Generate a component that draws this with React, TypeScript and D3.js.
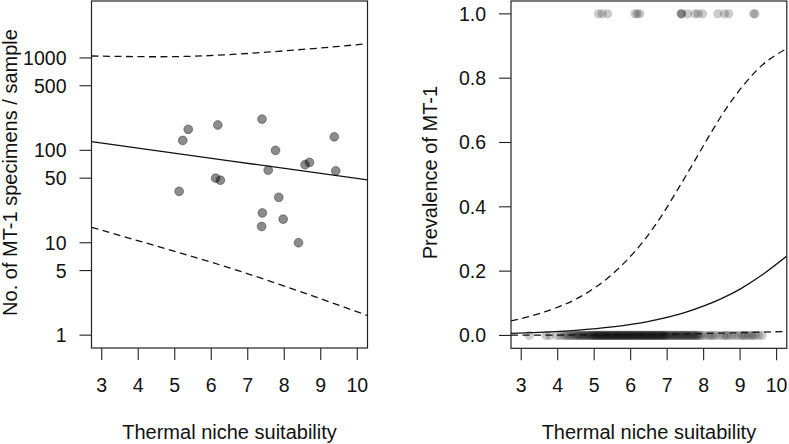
import React from "react";
import * as d3 from "d3";

const xTicks = [3, 4, 5, 6, 7, 8, 9, 10];
const countTicks = [1, 5, 10, 50, 100, 500, 1000];
const prevTicks = [0, 0.2, 0.4, 0.6, 0.8, 1.0];

// Left panel: sites with MT-1 (x = thermal niche suitability, y = specimens / sample)
const siteX = [5.37, 5.22, 6.18, 7.39, 9.37, 7.76, 8.57, 8.69, 7.56, 9.41, 6.12, 6.25, 5.12, 7.85, 7.4, 7.97, 7.38, 8.39];
const siteCount = [169, 128, 188, 218, 140, 100, 70, 74, 61, 60, 50, 47.5, 36, 31, 21, 18, 15, 10];

const countFitX = [2.72, 6.5, 10.28];
const countFit = [124, 77, 48];
const countUpperX = [2.72, 3.5, 4.5, 5.5, 6.5, 7.5, 8.5, 9.5, 10.28];
const countUpper = [1050, 1038, 1030, 1044, 1086, 1153, 1236, 1334, 1429];
const countLowerX = [2.72, 4.5, 6.5, 8.5, 10.28];
const countLower = [14.7, 9.2, 5.35, 2.9, 1.63];

// Right panel: presence (1) and absence (0) samples
const presentX = [5.37, 5.22, 6.18, 7.39, 9.37, 7.76, 8.57, 8.69, 7.56, 9.41, 6.12, 6.25, 5.12, 7.85, 7.4, 7.97, 7.38, 8.39];
const absentX = [
  3.22, 3.68, 3.78,
  3.98, 4.08, 4.17, 4.22, 4.28, 4.33, 4.38, 4.43, 4.47, 4.52, 4.55, 4.58, 4.62, 4.66, 4.69, 4.72, 4.76, 4.79, 4.83, 4.86, 4.89, 4.92, 4.95, 4.98,
  5.01, 5.03, 5.06, 5.08, 5.11, 5.13, 5.16, 5.18, 5.21, 5.23, 5.26, 5.28, 5.31, 5.33, 5.36, 5.38, 5.41, 5.43, 5.46, 5.48,
  5.51, 5.53, 5.56, 5.58, 5.61, 5.63, 5.66, 5.68, 5.71, 5.73, 5.76, 5.78, 5.81, 5.83, 5.86, 5.88, 5.91, 5.93, 5.96, 5.98,
  6.01, 6.03, 6.06, 6.08, 6.11, 6.13, 6.16, 6.18, 6.21, 6.23, 6.26, 6.28, 6.31, 6.33, 6.36, 6.38, 6.41, 6.43, 6.46, 6.48,
  6.51, 6.53, 6.56, 6.58, 6.61, 6.63, 6.66, 6.68, 6.71, 6.73, 6.76, 6.78, 6.81, 6.83, 6.86, 6.88, 6.91, 6.93, 6.96, 6.98,
  7.02, 7.05, 7.09, 7.12, 7.15, 7.19, 7.22, 7.25, 7.29, 7.32, 7.35, 7.39, 7.42, 7.45, 7.49, 7.52, 7.55, 7.59, 7.62, 7.65,
  7.69, 7.72, 7.75, 7.79, 7.82, 7.85,
  7.9, 7.95, 8.04, 8.13, 8.2, 8.26, 8.34, 8.45, 8.55, 8.61, 8.67, 8.76, 8.85, 8.94, 9.03, 9.09, 9.14, 9.22, 9.29, 9.34, 9.41, 9.5, 9.6,
];

const prevFitX = [2.72, 3.5, 4.5, 5.5, 6.5, 7.5, 8.5, 9.0, 9.5, 10.28];
const prevFit = [0.0064, 0.0096, 0.016, 0.0266, 0.0439, 0.0717, 0.115, 0.144, 0.18, 0.247];
const prevUpperX = [2.72, 3.64, 4.55, 5.46, 6.37, 6.83, 7.28, 7.74, 8.19, 8.65, 9.1, 9.56, 10.28];
const prevUpper = [0.045, 0.073, 0.116, 0.187, 0.296, 0.369, 0.452, 0.54, 0.628, 0.711, 0.779, 0.836, 0.892];
const prevLowerX = [2.72, 4, 5, 6, 7, 8, 9, 10.28];
const prevLower = [0.0008, 0.0012, 0.0018, 0.0027, 0.004, 0.006, 0.0085, 0.0125];

const W = 789;
const H = 444;
const FONT = "'Liberation Sans', Arial, Helvetica, sans-serif";
const FS = 19.5;
const FT = 20;
const DASH = "7,4.5";

type Scale = (v: number) => number;

function Panel(props: {
  left: number;
  right: number;
  top: number;
  bottom: number;
  x: Scale;
  y: Scale;
  yTicks: number[];
  yFmt: (v: number) => string;
  yTitle: string;
  children: React.ReactNode;
}) {
  const { left, right, top, bottom, x, y, yTicks, yFmt, yTitle } = props;
  const cx = (left + right) / 2;
  const cy = (top + bottom) / 2 - 2;
  return (
    <g>
      <defs>
        <clipPath id={`clip${Math.round(left)}`}>
          <rect x={left} y={top} width={right - left} height={bottom - top} />
        </clipPath>
      </defs>
      <g clipPath={`url(#clip${Math.round(left)})`}>{props.children}</g>
      <rect x={left} y={top} width={right - left} height={bottom - top} fill="none" stroke="#222" strokeWidth={1.2} />
      {xTicks.map((t) => (
        <g key={"x" + t}>
          <line x1={x(t)} x2={x(t)} y1={bottom} y2={bottom + 12} stroke="#222" strokeWidth={1.1} />
          <text x={x(t)} y={392} textAnchor="middle" fontSize={FS} fontFamily={FONT} fill="#111">
            {t}
          </text>
        </g>
      ))}
      {yTicks.map((t) => (
        <g key={"y" + t}>
          <line x1={left - 12} x2={left} y1={y(t)} y2={y(t)} stroke="#222" strokeWidth={1.1} />
          <text x={left - 25} y={y(t) + 7} textAnchor="end" fontSize={FS} fontFamily={FONT} fill="#111">
            {yFmt(t)}
          </text>
        </g>
      ))}
      <text x={cx} y={439} textAnchor="middle" fontSize={FT} fontFamily={FONT} fill="#111">
        Thermal niche suitability
      </text>
      <text
        transform={`translate(${left - 74.5},${cy}) rotate(-90)`}
        textAnchor="middle"
        fontSize={FT}
        fontFamily={FONT}
        fill="#111"
      >
        {yTitle}
      </text>
    </g>
  );
}

export default function App() {
  // Left panel scales
  const L = { left: 91.5, right: 367.5, top: 1, bottom: 348 };
  const xL = d3.scaleLinear().domain([2.72, 10.28]).range([L.left, L.right]);
  const lo = Math.pow(10, -0.139);
  const hi = Math.pow(10, Math.log10(3000) + 0.139);
  const yL = d3.scaleLog().domain([lo, hi]).range([L.bottom, L.top]);

  // Right panel scales
  const R = { left: 511, right: 786.8, top: 1, bottom: 348.3 };
  const xR = d3.scaleLinear().domain([2.72, 10.28]).range([R.left, R.right]);
  const yR = d3.scaleLinear().domain([-0.04, 1.04]).range([R.bottom, R.top]);

  const lineL = (xs: number[], ys: number[]) =>
    d3
      .line<number>()
      .x((_, i) => xL(xs[i]))
      .y((d) => yL(d))
      .curve(d3.curveMonotoneX)(ys) || "";
  const lineR = (xs: number[], ys: number[]) =>
    d3
      .line<number>()
      .x((_, i) => xR(xs[i]))
      .y((d) => yR(d))
      .curve(d3.curveMonotoneX)(ys) || "";

  return (
    <svg
      width={W}
      height={H}
      viewBox={`0 0 ${W} ${H}`}
      style={{ position: "absolute", left: 0, top: 0, background: "#fff" }}
    >
      <rect x={0} y={0} width={W} height={H} fill="#fff" />
      <Panel
        {...L}
        x={xL}
        y={yL}
        yTicks={countTicks}
        yFmt={(v) => String(v)}
        yTitle="No. of MT-1 specimens / sample"
      >
        {siteX.map((sx, i) => (
          <circle
            key={i}
            cx={xL(sx)}
            cy={yL(siteCount[i])}
            r={4.4}
            fill="rgba(0,0,0,0.45)"
            stroke="rgba(0,0,0,0.35)"
            strokeWidth={1}
          />
        ))}
        <path d={lineL(countFitX, countFit)} fill="none" stroke="#111" strokeWidth={1.3} />
        <path d={lineL(countUpperX, countUpper)} fill="none" stroke="#111" strokeWidth={1.3} strokeDasharray={DASH} />
        <path d={lineL(countLowerX, countLower)} fill="none" stroke="#111" strokeWidth={1.3} strokeDasharray={DASH} />
      </Panel>
      <Panel
        {...R}
        x={xR}
        y={yR}
        yTicks={prevTicks}
        yFmt={(v) => v.toFixed(1)}
        yTitle="Prevalence of MT-1"
      >
        {absentX.map((ax, i) => (
          <circle key={"a" + i} cx={xR(ax)} cy={yR(0)} r={4.6} fill="rgba(0,0,0,0.2)" />
        ))}
        {presentX.map((px, i) => (
          <circle key={"p" + i} cx={xR(px)} cy={yR(1)} r={4.6} fill="rgba(0,0,0,0.2)" />
        ))}
        <path d={lineR(prevFitX, prevFit)} fill="none" stroke="#111" strokeWidth={1.3} />
        <path d={lineR(prevUpperX, prevUpper)} fill="none" stroke="#111" strokeWidth={1.3} strokeDasharray={DASH} />
        <path d={lineR(prevLowerX, prevLower)} fill="none" stroke="#111" strokeWidth={1.3} strokeDasharray={DASH} />
      </Panel>
    </svg>
  );
}
